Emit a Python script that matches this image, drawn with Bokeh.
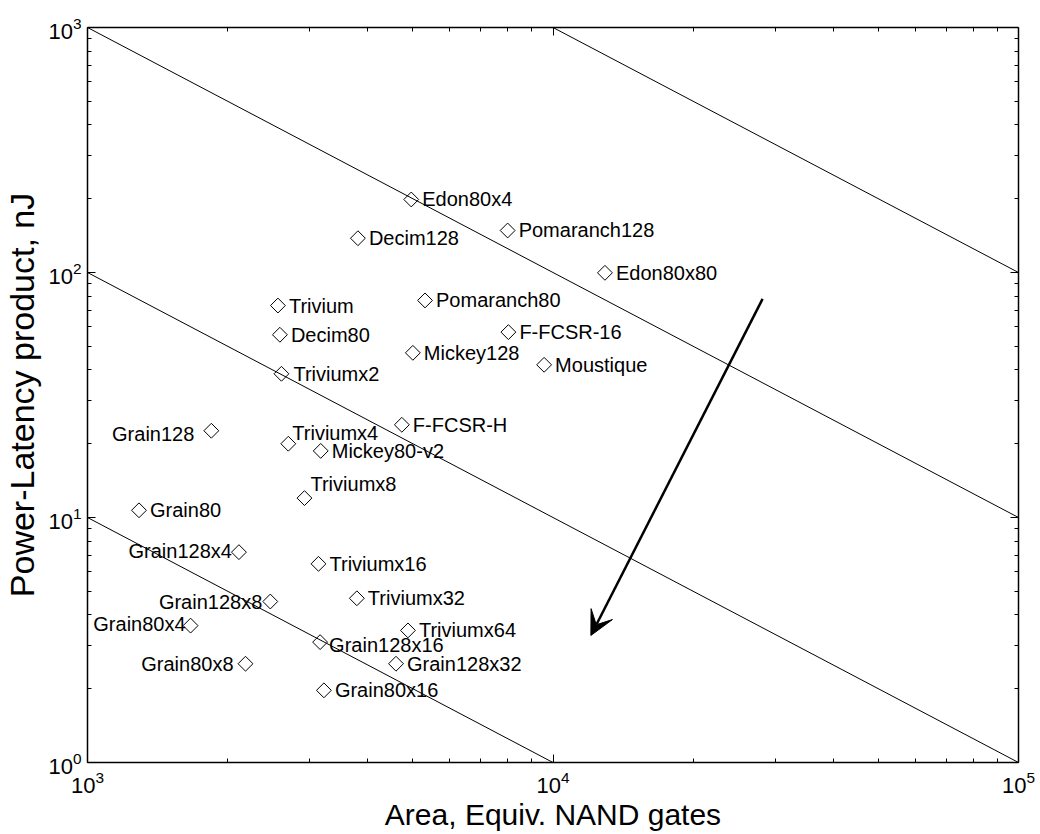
import math
from bokeh.plotting import figure
from bokeh.models import (LogAxis, FixedTicker, CustomJSTickFormatter, LogTickFormatter,
                          Arrow, VeeHead, ColumnDataSource, Range1d)
from bokeh.core.properties import value
from bokeh.embed import file_html
from bokeh.resources import INLINE

# ---------------- data ----------------
designs = ["Edon80x4", "Pomaranch128", "Decim128", "Edon80x80", "Trivium",
           "Pomaranch80", "Decim80", "F-FCSR-16", "Mickey128", "Moustique",
           "Triviumx2", "F-FCSR-H", "Triviumx4", "Mickey80-v2", "Grain128",
           "Triviumx8", "Grain80", "Grain128x4", "Triviumx16", "Triviumx32",
           "Grain128x8", "Grain80x4", "Triviumx64", "Grain128x16", "Grain80x8",
           "Grain128x32", "Grain80x16"]
area = [4960, 7990, 3810, 12930, 2565,
        5310, 2590, 8020, 5000, 9570,
        2610, 4735, 2700, 3170, 1845,
        2925, 1290, 2115, 3135, 3790,
        2470, 1665, 4880, 3160, 2185,
        4600, 3220]
power_latency = [198.6, 148.4, 138.0, 99.7, 73.3,
                 76.9, 55.7, 57.1, 47.0, 42.0,
                 38.6, 23.9, 20.0, 18.7, 22.6,
                 12.0, 10.7, 7.22, 6.47, 4.68,
                 4.54, 3.62, 3.46, 3.10, 2.53,
                 2.53, 1.97]

x_tick_values = [1e3, 1e4, 1e5]
y_tick_values = [1, 10, 100, 1000]
iso_products = [1e4, 1e5, 1e6, 1e7]      # constant area x power-latency lines
arrow_from = (28200, 78.0)
arrow_to = (12060, 3.3)
x_title = "Area, Equiv. NAND gates"
y_title = "Power-Latency product, nJ"

# ------------- label placement (style) -------------
label_style = {
    "Triviumx4": (4, -11, "left"),
    "Triviumx8": (6, -14, "left"),
    "Grain128x16": (9, 3, "left"),
    "Triviumx2": (12, 0, "left"),
    "Grain128": (-17, 3, "right"),
    "Grain128x4": (-7, -1, "right"),
    "Grain128x8": (-8, 0, "right"),
    "Grain80x4": (-5, -2, "right"),
    "Grain80x8": (-12, 0, "right"),
}
dx, dy, align = [], [], []
for n in designs:
    a, b, c = label_style.get(n, (11, 0, "left"))
    dx.append(a); dy.append(b); align.append(c)

FONT = "Liberation Sans"

p = figure(width=1040, height=834, x_axis_type="log", y_axis_type="log",
           x_range=Range1d(x_tick_values[0], x_tick_values[-1]),
           y_range=Range1d(y_tick_values[0], y_tick_values[-1]),
           output_backend="svg", toolbar_location=None,
           min_border_left=86, min_border_top=27, min_border_right=22,
           min_border_bottom=72, background_fill_color="white",
           border_fill_color="white")
p.outline_line_color = None
p.xgrid.visible = False
p.ygrid.visible = False

bottom_ax = p.below[0]
left_ax = p.left[0]

def minor_for(ticks):
    out = []
    for t in ticks[:-1]:
        out += [m * t for m in range(2, 10)]
    return out

xt = FixedTicker(ticks=x_tick_values, minor_ticks=minor_for(x_tick_values))
yt = FixedTicker(ticks=y_tick_values, minor_ticks=minor_for(y_tick_values))
blank = CustomJSTickFormatter(code="return ''")

top_ax = LogAxis()
right_ax = LogAxis()
p.add_layout(top_ax, "above")
p.add_layout(right_ax, "right")

for ax, tk in [(bottom_ax, xt), (top_ax, xt), (left_ax, yt), (right_ax, yt)]:
    ax.ticker = tk
    ax.major_tick_in = 8
    ax.major_tick_out = 0
    ax.minor_tick_in = 4
    ax.minor_tick_out = 0
    ax.axis_line_color = "black"
    ax.axis_line_width = 1.5
    ax.major_tick_line_color = "black"
    ax.minor_tick_line_color = "black"

for ax in (top_ax, right_ax):
    ax.formatter = blank
    ax.major_label_standoff = 0

for ax in (bottom_ax, left_ax):
    ax.formatter = LogTickFormatter()
    ax.major_label_text_font = FONT
    ax.major_label_text_font_size = "22px"
    ax.major_label_text_color = "black"
    ax.axis_label_text_font = FONT
    ax.axis_label_text_font_style = "normal"
    ax.axis_label_text_color = "black"

bottom_ax.major_label_standoff = 8
bottom_ax.axis_label = x_title
bottom_ax.axis_label_text_font_size = "30px"
bottom_ax.axis_label_standoff = 2

left_ax.major_label_standoff = 6
left_ax.axis_label = y_title
left_ax.axis_label_text_font_size = "34px"
left_ax.axis_label_standoff = 4

# iso lines
x_lo, x_hi = x_tick_values[0], x_tick_values[-1]
for c in iso_products:
    p.line([x_lo, x_hi], [c / x_lo, c / x_hi], line_color="black", line_width=1)

# arrow
p.add_layout(Arrow(end=VeeHead(size=24, fill_color="black", line_color="black"),
                   x_start=arrow_from[0], y_start=arrow_from[1],
                   x_end=arrow_to[0], y_end=arrow_to[1],
                   line_color="black", line_width=2.5))

src = ColumnDataSource(dict(x=area, y=power_latency, name=designs,
                            dx=dx, dy=dy, align=align))
p.scatter("x", "y", source=src, marker="square", angle=math.pi / 4, size=10.5,
          fill_color=None, line_color="black", line_width=1)
p.text("x", "y", text="name", source=src, x_offset="dx", y_offset="dy",
       text_align="align", text_baseline="middle", text_font=value(FONT),
       text_font_size="20px", text_color="black")

open("out.html", "w").write(file_html(p, INLINE))
